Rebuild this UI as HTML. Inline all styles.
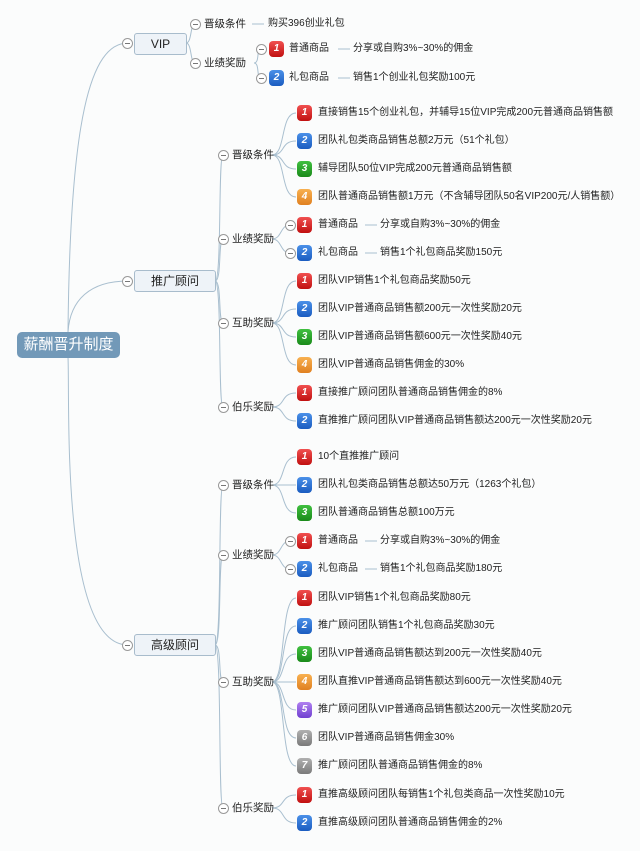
<!DOCTYPE html>
<html><head><meta charset="utf-8"><style>
body{margin:0;width:640px;height:851px;background:#fbfcfc;position:relative;overflow:hidden;font-family:"Liberation Sans","Noto Sans CJK SC",sans-serif;color:#222}
.a{position:absolute;white-space:nowrap;font-size:10px;line-height:14px}
.g{position:absolute;font-size:10.5px;line-height:14px;white-space:nowrap}
.b{position:absolute;width:15px;height:16px;border-radius:4px;color:#fff;font-size:10px;line-height:16px;text-align:center;font-style:italic;font-weight:bold}
.r{background:linear-gradient(#f05050,#c01010)}.u{background:linear-gradient(#4a90e8,#1a5cc0)}.n{background:linear-gradient(#40c040,#1a8a1a)}.o{background:linear-gradient(#f8b050,#e08020)}.p{background:linear-gradient(#b080f0,#7040d0)}.y{background:linear-gradient(#b0b0b0,#7a7a7a)}
.c{position:absolute;width:9px;height:9px;border:1px solid #999;border-radius:50%;background:#fff}
.c:after{content:"";position:absolute;left:2px;right:2px;top:4px;height:1px;background:#777}
.box{position:absolute;border:1px solid #a8bccc;border-radius:3px;background:#eef3f8;font-size:12px;text-align:center;line-height:20px}
</style></head><body>
<svg width="640" height="851" style="position:absolute;left:0;top:0" fill="none" stroke="#a9bfcf" stroke-width="1">
<path d="M68 332 C70 120 90 43 128 43"/><path d="M68 332 C70 300 90 281 128 281"/><path d="M68 357 C70 400 60 645 128 645"/>
<path d="M186 43 C192 43 190 24 195 24"/><path d="M186 43 C192 43 190 63 195 63"/>
<path d="M254 63 C260 63 256 49 261 49"/><path d="M254 63 C260 63 256 78 261 78"/>
<path d="M215 281 C222 281 218 155 223 155"/><path d="M215 281 C222 281 218 239 223 239"/><path d="M215 281 C222 281 218 323 223 323"/><path d="M215 281 C222 281 218 407 223 407"/>
<path d="M215 645 C222 645 218 485 223 485"/><path d="M215 645 C222 645 218 555 223 555"/><path d="M215 645 C222 645 218 682 223 682"/><path d="M215 645 C222 645 218 808 223 808"/>
<path d="M272 155 C286 155 280 113 296 113"/><path d="M272 155 C286 155 280 141 296 141"/><path d="M272 155 C286 155 280 169 296 169"/><path d="M272 155 C286 155 280 197 296 197"/>
<path d="M272 239 C282 239 280 225 290 225"/><path d="M272 239 C282 239 280 253 290 253"/>
<path d="M272 323 C286 323 280 281 296 281"/><path d="M272 323 C286 323 280 309 296 309"/><path d="M272 323 C286 323 280 337 296 337"/><path d="M272 323 C286 323 280 365 296 365"/>
<path d="M272 407 C286 407 280 393 296 393"/><path d="M272 407 C286 407 280 421 296 421"/>
<path d="M272 485 C286 485 280 457 296 457"/><path d="M272 485 C286 485 280 485 296 485"/><path d="M272 485 C286 485 280 513 296 513"/>
<path d="M272 555 C282 555 280 541 290 541"/><path d="M272 555 C282 555 280 569 290 569"/>
<path d="M272 682 C286 682 280 598 296 598"/><path d="M272 682 C286 682 280 626 296 626"/><path d="M272 682 C286 682 280 654 296 654"/><path d="M272 682 C286 682 280 682 296 682"/><path d="M272 682 C286 682 280 710 296 710"/><path d="M272 682 C286 682 280 738 296 738"/><path d="M272 682 C286 682 280 766 296 766"/>
<path d="M272 808 C286 808 280 795 296 795"/><path d="M272 808 C286 808 280 823 296 823"/>
<path d="M252 24 H264"/><path d="M338 49 H350"/><path d="M338 78 H350"/><path d="M365 225 H377"/><path d="M365 253 H377"/><path d="M365 541 H377"/><path d="M365 569 H377"/>
</svg>
<div class="box" style="left:17px;top:332px;width:101px;height:24px;background:#7299b8;border-color:#7299b8;color:#fff;font-size:15px;line-height:24px;border-radius:5px">薪酬晋升制度</div>
<div class="box" style="left:134px;top:33px;width:51px;height:20px">VIP</div>
<div class="box" style="left:134px;top:270px;width:80px;height:20px">推广顾问</div>
<div class="box" style="left:134px;top:634px;width:80px;height:20px">高级顾问</div>
<div class="c" style="left:122px;top:38px"></div><div class="c" style="left:122px;top:276px"></div><div class="c" style="left:122px;top:640px"></div>
<!-- VIP -->
<div class="c" style="left:190px;top:19px"></div><div class="g" style="left:204px;top:17px">晋级条件</div><div class="a" style="left:268px;top:17px">购买396创业礼包</div>
<div class="c" style="left:190px;top:58px"></div><div class="g" style="left:204px;top:56px">业绩奖励</div>
<div class="c" style="left:256px;top:44px"></div><div class="b r" style="left:269px;top:41px">1</div><div class="a" style="left:289px;top:42px">普通商品</div><div class="a" style="left:353px;top:42px">分享或自购3%~30%的佣金</div>
<div class="c" style="left:256px;top:73px"></div><div class="b u" style="left:269px;top:70px">2</div><div class="a" style="left:289px;top:71px">礼包商品</div><div class="a" style="left:353px;top:71px">销售1个创业礼包奖励100元</div>
<!-- 推广顾问 -->
<div class="c" style="left:218px;top:150px"></div><div class="g" style="left:232px;top:148px">晋级条件</div>
<div class="b r" style="left:297px;top:105px">1</div><div class="a" style="left:318px;top:106px">直接销售15个创业礼包，并辅导15位VIP完成200元普通商品销售额</div>
<div class="b u" style="left:297px;top:133px">2</div><div class="a" style="left:318px;top:134px">团队礼包类商品销售总额2万元（51个礼包）</div>
<div class="b n" style="left:297px;top:161px">3</div><div class="a" style="left:318px;top:162px">辅导团队50位VIP完成200元普通商品销售额</div>
<div class="b o" style="left:297px;top:189px">4</div><div class="a" style="left:318px;top:190px">团队普通商品销售额1万元（不含辅导团队50名VIP200元/人销售额）</div>
<div class="c" style="left:218px;top:234px"></div><div class="g" style="left:232px;top:232px">业绩奖励</div>
<div class="c" style="left:285px;top:220px"></div><div class="b r" style="left:297px;top:217px">1</div><div class="a" style="left:318px;top:218px">普通商品</div><div class="a" style="left:380px;top:218px">分享或自购3%~30%的佣金</div>
<div class="c" style="left:285px;top:248px"></div><div class="b u" style="left:297px;top:245px">2</div><div class="a" style="left:318px;top:246px">礼包商品</div><div class="a" style="left:380px;top:246px">销售1个礼包商品奖励150元</div>
<div class="c" style="left:218px;top:318px"></div><div class="g" style="left:232px;top:316px">互助奖励</div>
<div class="b r" style="left:297px;top:273px">1</div><div class="a" style="left:318px;top:274px">团队VIP销售1个礼包商品奖励50元</div>
<div class="b u" style="left:297px;top:301px">2</div><div class="a" style="left:318px;top:302px">团队VIP普通商品销售额200元一次性奖励20元</div>
<div class="b n" style="left:297px;top:329px">3</div><div class="a" style="left:318px;top:330px">团队VIP普通商品销售额600元一次性奖励40元</div>
<div class="b o" style="left:297px;top:357px">4</div><div class="a" style="left:318px;top:358px">团队VIP普通商品销售佣金的30%</div>
<div class="c" style="left:218px;top:402px"></div><div class="g" style="left:232px;top:400px">伯乐奖励</div>
<div class="b r" style="left:297px;top:385px">1</div><div class="a" style="left:318px;top:386px">直接推广顾问团队普通商品销售佣金的8%</div>
<div class="b u" style="left:297px;top:413px">2</div><div class="a" style="left:318px;top:414px">直推推广顾问团队VIP普通商品销售额达200元一次性奖励20元</div>
<!-- 高级顾问 -->
<div class="c" style="left:218px;top:480px"></div><div class="g" style="left:232px;top:478px">晋级条件</div>
<div class="b r" style="left:297px;top:449px">1</div><div class="a" style="left:318px;top:450px">10个直推推广顾问</div>
<div class="b u" style="left:297px;top:477px">2</div><div class="a" style="left:318px;top:478px">团队礼包类商品销售总额达50万元（1263个礼包）</div>
<div class="b n" style="left:297px;top:505px">3</div><div class="a" style="left:318px;top:506px">团队普通商品销售总额100万元</div>
<div class="c" style="left:218px;top:550px"></div><div class="g" style="left:232px;top:548px">业绩奖励</div>
<div class="c" style="left:285px;top:536px"></div><div class="b r" style="left:297px;top:533px">1</div><div class="a" style="left:318px;top:534px">普通商品</div><div class="a" style="left:380px;top:534px">分享或自购3%~30%的佣金</div>
<div class="c" style="left:285px;top:564px"></div><div class="b u" style="left:297px;top:561px">2</div><div class="a" style="left:318px;top:562px">礼包商品</div><div class="a" style="left:380px;top:562px">销售1个礼包商品奖励180元</div>
<div class="c" style="left:218px;top:677px"></div><div class="g" style="left:232px;top:675px">互助奖励</div>
<div class="b r" style="left:297px;top:590px">1</div><div class="a" style="left:318px;top:591px">团队VIP销售1个礼包商品奖励80元</div>
<div class="b u" style="left:297px;top:618px">2</div><div class="a" style="left:318px;top:619px">推广顾问团队销售1个礼包商品奖励30元</div>
<div class="b n" style="left:297px;top:646px">3</div><div class="a" style="left:318px;top:647px">团队VIP普通商品销售额达到200元一次性奖励40元</div>
<div class="b o" style="left:297px;top:674px">4</div><div class="a" style="left:318px;top:675px">团队直推VIP普通商品销售额达到600元一次性奖励40元</div>
<div class="b p" style="left:297px;top:702px">5</div><div class="a" style="left:318px;top:703px">推广顾问团队VIP普通商品销售额达200元一次性奖励20元</div>
<div class="b y" style="left:297px;top:730px">6</div><div class="a" style="left:318px;top:731px">团队VIP普通商品销售佣金30%</div>
<div class="b y" style="left:297px;top:758px">7</div><div class="a" style="left:318px;top:759px">推广顾问团队普通商品销售佣金的8%</div>
<div class="c" style="left:218px;top:803px"></div><div class="g" style="left:232px;top:801px">伯乐奖励</div>
<div class="b r" style="left:297px;top:787px">1</div><div class="a" style="left:318px;top:788px">直推高级顾问团队每销售1个礼包类商品一次性奖励10元</div>
<div class="b u" style="left:297px;top:815px">2</div><div class="a" style="left:318px;top:816px">直推高级顾问团队普通商品销售佣金的2%</div>
</body></html>
